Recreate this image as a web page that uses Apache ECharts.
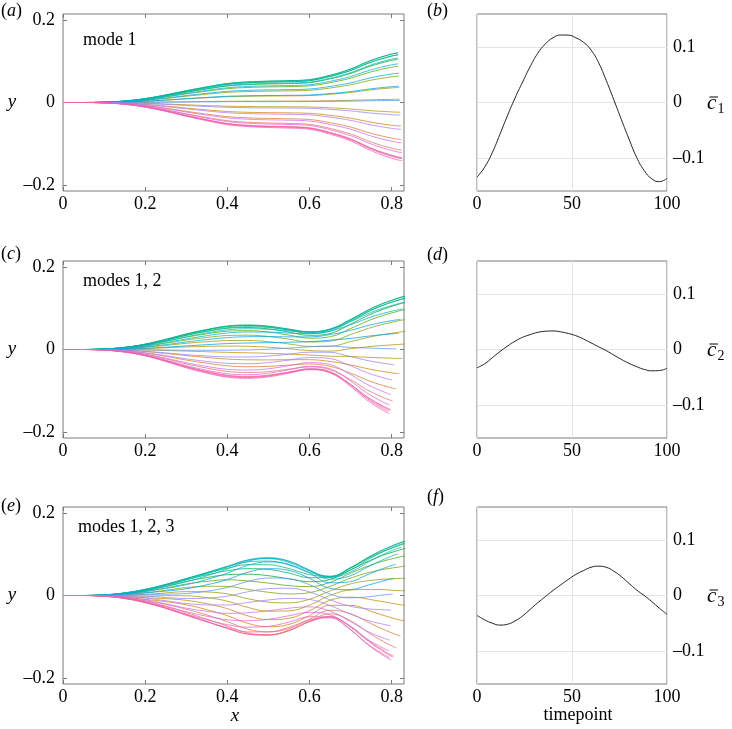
<!DOCTYPE html>
<html><head><meta charset="utf-8">
<script src="https://cdn.jsdelivr.net/npm/echarts@6/dist/echarts.min.js"></script>
<style>html,body{margin:0;padding:0;background:#fff}#c{width:732px;height:729px}</style>
</head><body><div id="c"></div><script>
// ---- data ----
const timepoints = [0,4,8,12,16,20,24,28,32,36,40,44,48,52,56,60,64,68,72,76,80,84,88,92,96,100];
const c1 = [-0.135,-0.117,-0.091,-0.058,-0.024,0.008,0.037,0.065,0.089,0.106,0.117,0.122,0.1218,0.117,0.109,0.095,0.072,0.040,0.005,-0.031,-0.066,-0.099,-0.123,-0.138,-0.143,-0.137];
const c2 = [-0.033,-0.026,-0.015,-0.004,0.006,0.015,0.022,0.027,0.031,0.033,0.0335,0.032,0.029,0.025,0.019,0.012,0.005,-0.002,-0.010,-0.018,-0.025,-0.031,-0.036,-0.0385,-0.038,-0.034];
const c3 = [-0.036,-0.044,-0.050,-0.0535,-0.052,-0.046,-0.037,-0.025,-0.013,-0.002,0.009,0.019,0.029,0.038,0.045,0.051,0.053,0.051,0.044,0.034,0.022,0.010,0.000,-0.011,-0.023,-0.034];
// body-position grid and mode shapes (lateral y and longitudinal x displacement)
const xGrid  = [0,0.05,0.1,0.15,0.2,0.25,0.3,0.35,0.4,0.45,0.5,0.55,0.6,0.65,0.7,0.75,0.8,0.82];
const mode1Y = [0,0,0.006,0.03,0.078,0.15,0.234,0.31,0.377,0.41,0.425,0.435,0.455,0.54,0.66,0.83,0.957,0.99];
const mode2Y = [0,0,0.015,0.05,0.11,0.2,0.29,0.34,0.35,0.30,0.15,-0.12,-0.42,-0.55,-0.2,0.08,0.28,0.36];
const mode3Y = [0,0,0.01,0.04,0.08,0.10,0.15,0.28,0.48,0.8,0.95,0.85,0.45,-0.1,-0.25,-0.15,0.0,0.05];
const mode1X = [0,0,0,0,0,0,0,0,0,0,0,0,-0.003,-0.008,-0.015,-0.025,-0.035,-0.04];
const mode2X = [0,0,0,0,0,0,0,0,0,0,0,0,0.01,0.05,0.15,0.4,0.7,0.85];
const mode3X = [0,0,0,0,0,0,0,0,0,0,0,0,0,-0.01,-0.04,-0.1,-0.17,-0.2];
// ticks & text
const xTicks = [0,0.2,0.4,0.6,0.8];
const yTicks = [-0.2,0,0.2];
const cTicks = [-0.1,0,0.1];
const panelLetters = ['a','b','c','d','e','f'];
const modeLabels = ['mode 1','modes 1, 2','modes 1, 2, 3'];
const coefNames = ['1','2','3'];

// ---- helpers ----
function hcl(h, c, l) {
  const hr = h*Math.PI/180, u = c*Math.cos(hr), v = c*Math.sin(hr);
  const Xn=0.95047, Yn=1, Zn=1.08883, d = Xn+15*Yn+3*Zn;
  const un = 4*Xn/d, vn = 9*Yn/d;
  const Y = l > 8 ? Math.pow((l+16)/116,3) : l/903.3;
  const up = u/(13*l)+un, vp = v/(13*l)+vn;
  const X = Y*9*up/(4*vp), Z = Y*(12-3*up-20*vp)/(4*vp);
  const lin = [3.2404542*X-1.5371385*Y-0.4985314*Z, -0.9692660*X+1.8760108*Y+0.0415560*Z, 0.0556434*X-0.2040259*Y+1.0572252*Z];
  return '#' + lin.map(q => { q = q <= 0.0031308 ? 12.92*q : 1.055*Math.pow(q,1/2.4)-0.055; q = Math.max(0,Math.min(1,q)); return Math.round(q*255).toString(16).padStart(2,'0'); }).join('');
}
const n = timepoints.length;
const colors = timepoints.map((t,i) => hcl(5 + 360*i/n, 95, 62));
const fmt = v => v === 0 ? '0' : (v < 0 ? '\u2013' : '') + Math.abs(v);
const modesY = [mode1Y, mode2Y, mode3Y], modesX = [mode1X, mode2X, mode3X], coefs = [c1, c2, c3];
function shape(k, ti) {
  return xGrid.map((x0, i) => {
    let x = x0, y = 0;
    for (let m = 0; m < k; m++) { x += coefs[m][ti]*modesX[m][i]; y += coefs[m][ti]*modesY[m][i]; }
    return [x, y];
  });
}

const FONT = 'Liberation Serif';
const GREY = '#7a7a7a';
const tops = [14, 261, 507];
const grids = [], xAxes = [], yAxes = [], series = [], graphic = [];
tops.forEach((top, r) => {
  const gl = grids.length;
  grids.push({left: 63, top: top, width: 341, height: 177, show: true, borderColor: GREY, borderWidth: 1, containLabel: false, outerBoundsMode: 'none'});
  grids.push({left: 477, top: top, width: 190, height: 177, show: true, borderColor: GREY, borderWidth: 1, containLabel: false, outerBoundsMode: 'none'});
  const tick = (vals) => ({show: true, inside: true, length: 4, customValues: vals, lineStyle: {color: GREY}});
  const lab = (vals, m) => ({customValues: vals, formatter: fmt, fontFamily: FONT, fontSize: 18, color: '#000', margin: m});
  const noLine = {show: false, onZero: false};
  // left panel axes
  const xa = xAxes.length;
  xAxes.push({gridIndex: gl, type: 'value', min: 0, max: 0.83, position: 'bottom', axisLine: noLine, axisTick: tick(xTicks), axisLabel: lab(xTicks, 4), splitLine: {show: false}});
  xAxes.push({gridIndex: gl, type: 'value', min: 0, max: 0.83, position: 'top', axisLine: noLine, axisTick: tick(xTicks), axisLabel: {show: false}, splitLine: {show: false}});
  const ya = yAxes.length;
  yAxes.push({gridIndex: gl, type: 'value', min: -0.215, max: 0.215, position: 'left', axisLine: noLine, axisTick: tick(yTicks), axisLabel: lab(yTicks, 8), splitLine: {show: false}});
  yAxes.push({gridIndex: gl, type: 'value', min: -0.215, max: 0.215, position: 'right', axisLine: noLine, axisTick: tick(yTicks), axisLabel: {show: false}, splitLine: {show: false}});
  // right panel axes
  const xb = xAxes.length;
  xAxes.push({gridIndex: gl+1, type: 'value', min: 0, max: 100, interval: 50, position: 'bottom', axisLine: noLine, axisTick: {show: false}, axisLabel: {fontFamily: FONT, fontSize: 18, color: '#000', margin: 4}, splitLine: {show: true, lineStyle: {color: '#e3e3e3', width: 1}}});
  const yb = yAxes.length;
  yAxes.push({gridIndex: gl+1, type: 'value', min: -0.16, max: 0.16, position: 'right', axisLine: noLine, axisTick: {show: false, customValues: cTicks}, axisLabel: lab(cTicks, 6), splitLine: {show: true, lineStyle: {color: '#e3e3e3', width: 1}}});

  timepoints.forEach((t, ti) => {
    series.push({type: 'line', xAxisIndex: xa, yAxisIndex: ya, data: shape(r+1, ti), showSymbol: false, smooth: 0.4, silent: true, clip: true,
      lineStyle: {color: colors[ti], width: 0.9, opacity: 0.85}});
  });
  series.push({type: 'line', xAxisIndex: xb, yAxisIndex: yb, data: timepoints.map((t, i) => [t, coefs[r][i]]), showSymbol: false, smooth: 0.5, silent: true,
    lineStyle: {color: '#222', width: 1}});

  // texts
  const letterY = [[12, 12], [255, 256], [507, 498]][r];
  const rich = {p: {fontFamily: FONT, fontSize: 18, fill: '#000'}, i: {fontFamily: FONT, fontStyle: 'italic', fontSize: 18, fill: '#000'}};
  graphic.push({type: 'text', left: 1, top: letterY[0] - 10, style: {text: '{p|(}{i|' + panelLetters[2*r] + '}{p|)}', rich: rich}});
  graphic.push({type: 'text', left: 427, top: letterY[1] - 10, style: {text: '{p|(}{i|' + panelLetters[2*r+1] + '}{p|)}', rich: rich}});
  graphic.push({type: 'text', x: r === 2 ? 78 : 83, y: [40, 281, 527][r], style: {text: modeLabels[r], fontFamily: FONT, fontSize: 18, fill: '#000', verticalAlign: 'middle', align: 'left'}});
  const y0 = top + 89.5;
  graphic.push({type: 'text', x: 12, y: y0 - 2, style: {text: 'y', fontFamily: FONT, fontStyle: 'italic', fontSize: 19, fill: '#000', align: 'center', verticalAlign: 'middle'}});
  graphic.push({type: 'text', x: 707, y: y0, style: {text: 'c', fontFamily: FONT, fontStyle: 'italic', fontSize: 21, fill: '#000', align: 'left', verticalAlign: 'middle'}});
  graphic.push({type: 'line', shape: {x1: 709.5, y1: y0 - 6.5, x2: 718, y2: y0 - 6.5}, style: {stroke: '#000', lineWidth: 1}});
  graphic.push({type: 'text', x: 717.5, y: y0 + 6, style: {text: coefNames[r], fontFamily: FONT, fontSize: 14, fill: '#000', align: 'left', verticalAlign: 'middle'}});
});
graphic.push({type: 'text', x: 235, y: 715.5, style: {text: 'x', fontFamily: FONT, fontStyle: 'italic', fontSize: 19, fill: '#000', align: 'center', verticalAlign: 'middle'}});
graphic.push({type: 'text', x: 578, y: 715.5, style: {text: 'timepoint', fontFamily: FONT, fontSize: 18, fill: '#000', align: 'center', verticalAlign: 'middle'}});

const chart = echarts.init(document.getElementById('c'), null, {renderer: 'canvas'});
chart.setOption({animation: false, backgroundColor: '#fff', textStyle: {fontFamily: FONT}, grid: grids, xAxis: xAxes, yAxis: yAxes, series: series, graphic: graphic});
</script></body></html>
